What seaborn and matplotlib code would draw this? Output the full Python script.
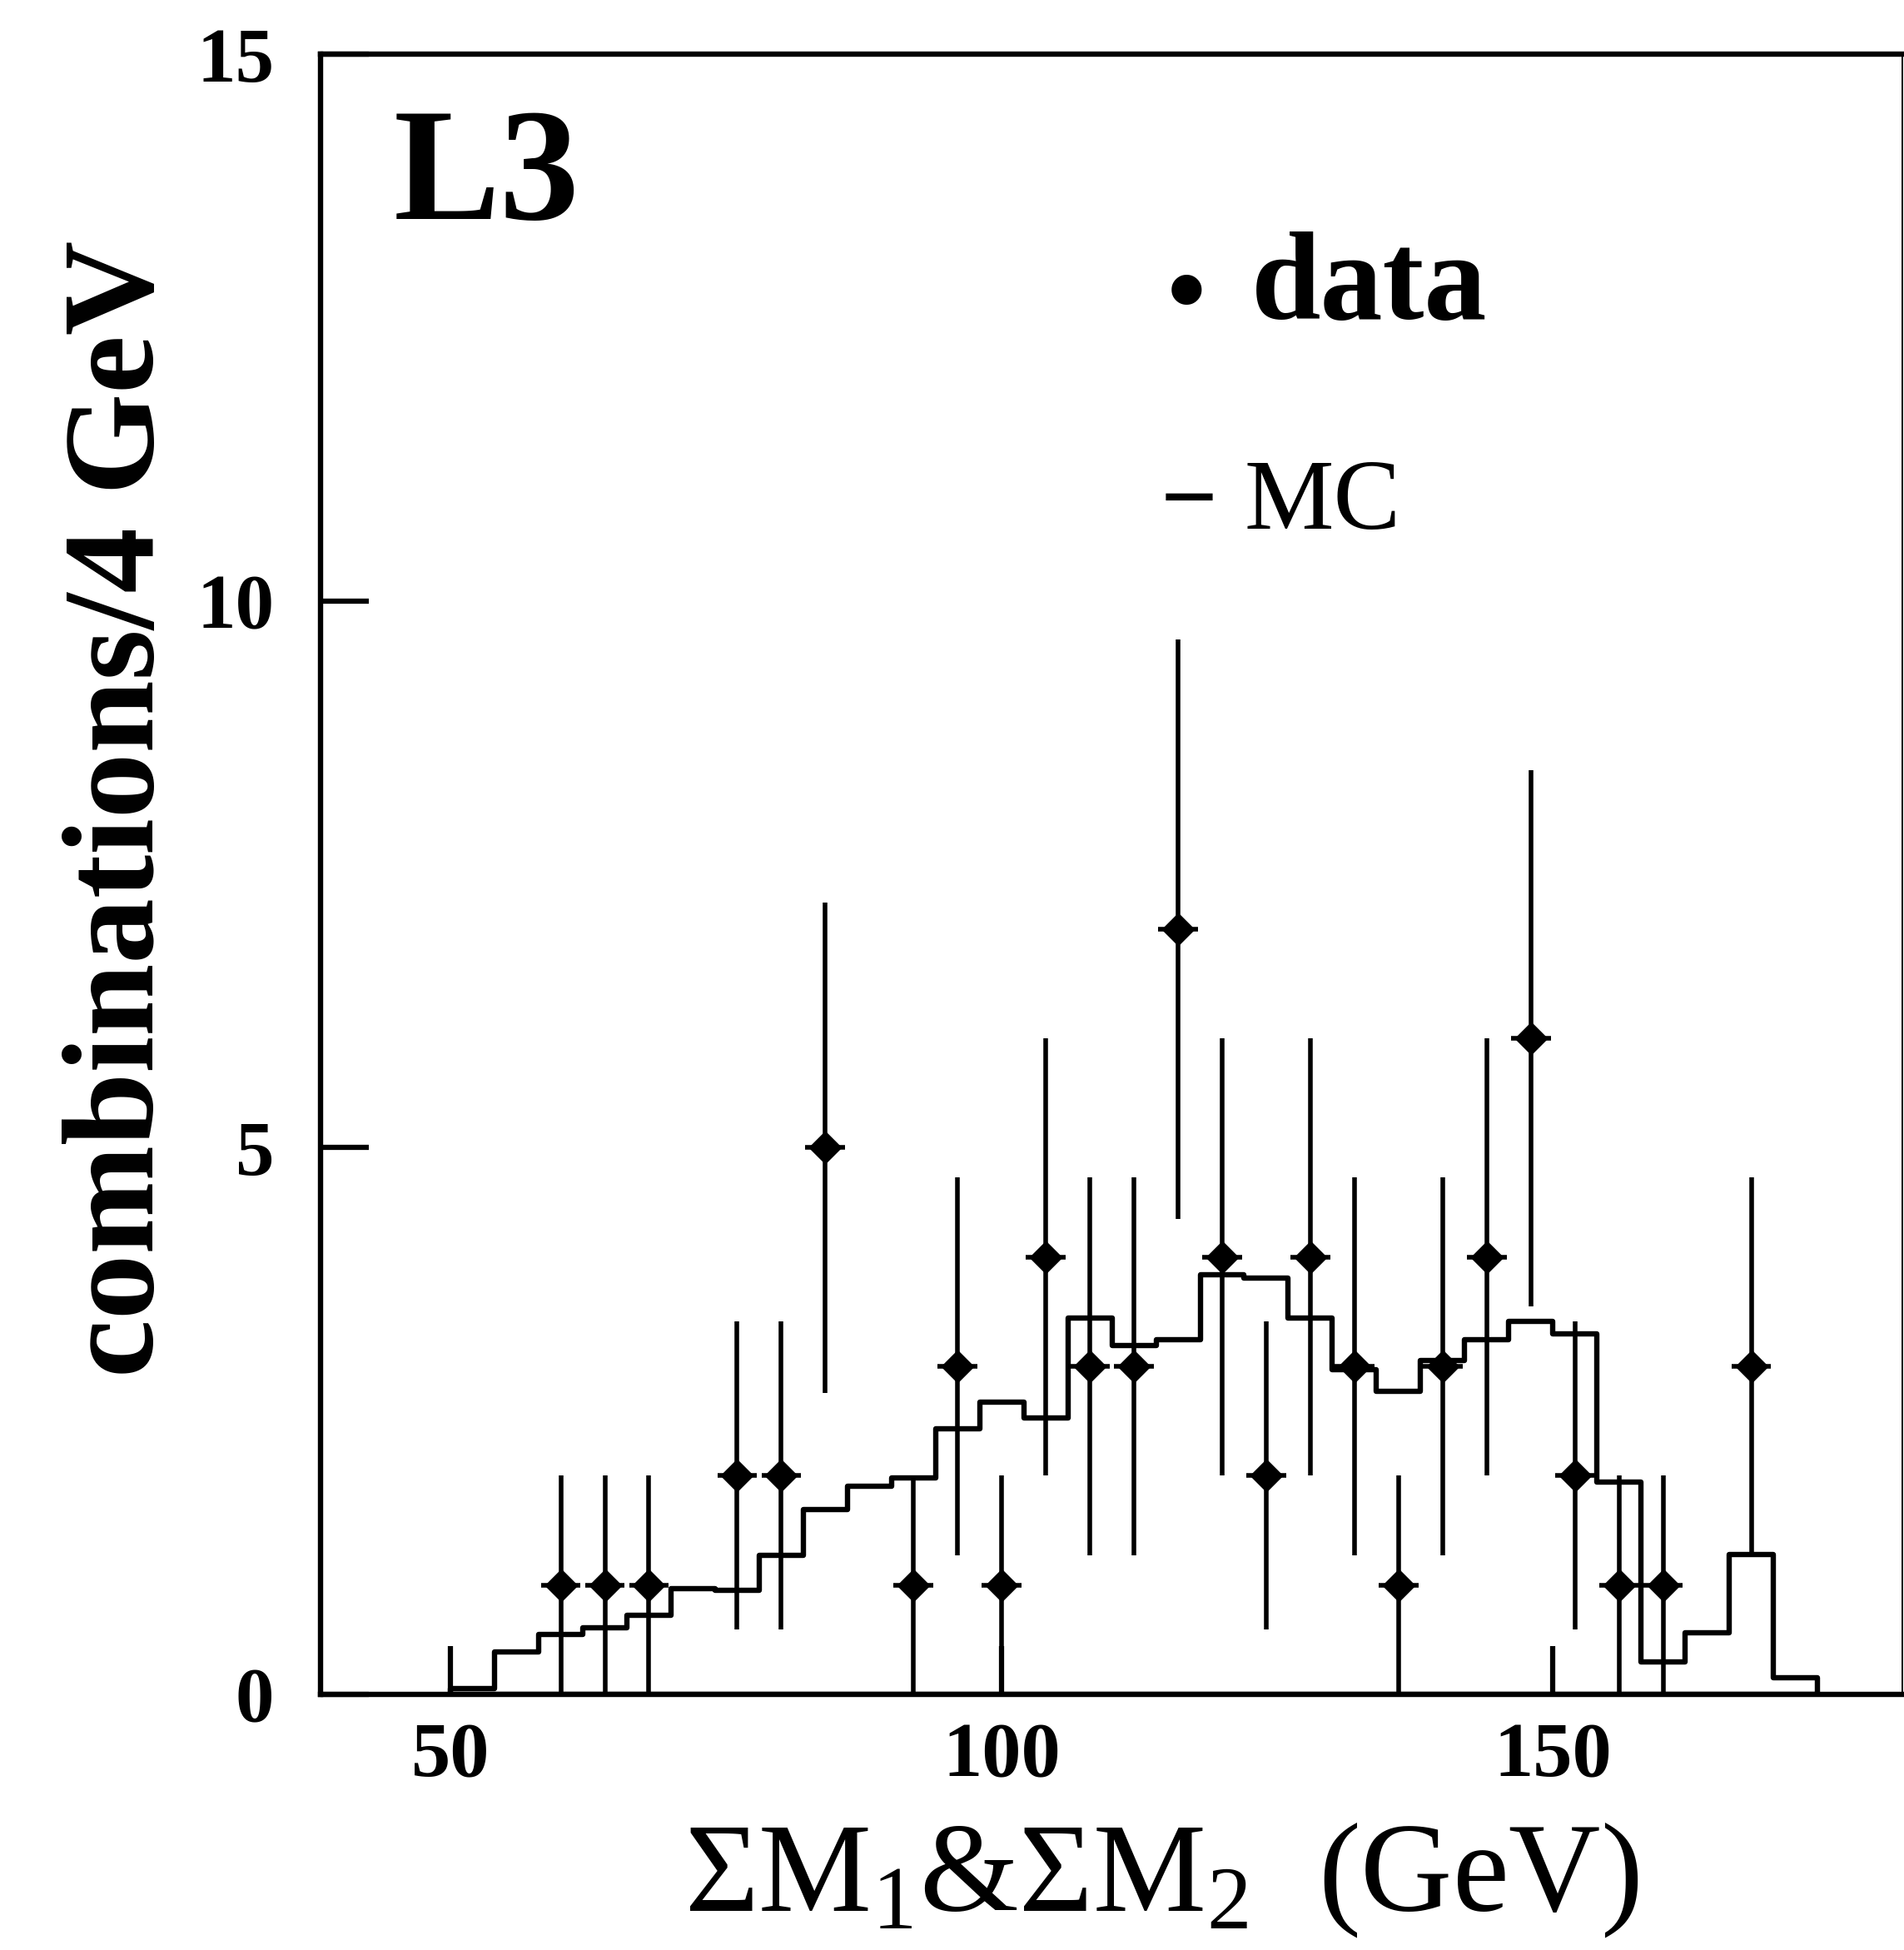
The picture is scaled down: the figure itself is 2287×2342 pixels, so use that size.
import matplotlib
matplotlib.use("Agg")
import matplotlib.pyplot as plt
import seaborn as sns

# MC expectation per 4 GeV bin (bin centres 52 ... 172 GeV)
mc_centers = [52, 56, 60, 64, 68, 72, 76, 80, 84, 88, 92, 96, 100, 104, 108, 112,
              116, 120, 124, 128, 132, 136, 140, 144, 148, 152, 156, 160, 164, 168, 172]
mc_values = [0.05, 0.39, 0.55, 0.61, 0.72, 0.97, 0.95, 1.27, 1.69, 1.90, 1.98, 2.43,
             2.67, 2.53, 3.44, 3.19, 3.24, 3.84, 3.81, 3.44, 2.97, 2.77, 3.05, 3.24,
             3.41, 3.30, 1.94, 0.30, 0.56, 1.28, 0.15]

# data points and their (Poisson) errors
data_x = [60, 64, 68, 76, 80, 84, 92, 96, 100, 104, 108, 112, 116, 120, 124,
          128, 132, 136, 140, 144, 148, 152, 156, 160, 168]
data_y = [1, 1, 1, 2, 2, 5, 1, 3, 1, 4, 3, 3, 7, 4, 2, 4, 3, 1, 3, 4, 6, 2, 1, 1, 3]
data_err = [1.0, 1.0, 1.0, 1.41, 1.41, 2.24, 1.0, 1.73, 1.0, 2.0, 1.73, 1.73, 2.65,
            2.0, 1.41, 2.0, 1.73, 1.0, 1.73, 2.0, 2.45, 1.41, 1.0, 1.0, 1.73]

x_ticks = [50, 100, 150]
y_ticks = [0, 5, 10, 15]

sns.set_style("ticks")
plt.rcParams["font.family"] = ["Liberation Serif", "DejaVu Serif"]
plt.rcParams["mathtext.fontset"] = "custom"
plt.rcParams["mathtext.rm"] = "Liberation Serif"
plt.rcParams["mathtext.it"] = "Liberation Serif:italic"
plt.rcParams["mathtext.bf"] = "Liberation Serif:bold"
for key in ["text.color", "axes.labelcolor", "xtick.color", "ytick.color", "axes.edgecolor"]:
    plt.rcParams[key] = "black"

fig = plt.figure(figsize=(22.87, 23.42), dpi=100)
ax = fig.add_axes([0.1683, 0.1311, 0.8308, 0.8411])

# MC histogram as an open step outline
sns.histplot(x=mc_centers, weights=mc_values, binwidth=4, binrange=(50, 174),
             element="step", fill=True, facecolor="none", color="black",
             linewidth=4.6, ax=ax, zorder=2)

# data with error bars
ax.errorbar(data_x, data_y, yerr=data_err, xerr=1.8, fmt="none", ecolor="black",
            elinewidth=4.0, capsize=0, zorder=3)
sns.scatterplot(x=data_x, y=data_y, marker="D", s=420, color="black",
                edgecolor="black", linewidth=0, ax=ax, zorder=4)

ax.set_xlabel("")
ax.set_ylabel("")
ax.set_xlim(38.2, 181.7)
ax.set_ylim(0, 15)
ax.set_xticks(x_ticks)
ax.set_yticks(y_ticks)
ax.tick_params(axis="both", direction="in", length=42, width=4.5, color="black")
ax.tick_params(axis="y", pad=40, labelsize=67)
ax.tick_params(axis="x", pad=24, labelsize=68)
for lab in ax.get_xticklabels() + ax.get_yticklabels():
    lab.set_fontweight("bold")
for side in ["left", "bottom", "top"]:
    ax.spines[side].set_linewidth(4.6)
ax.spines["right"].set_linewidth(1.4)

# labels and legend text
fig.text(0.2068, 0.8877, "L3", fontsize=138, fontweight="bold", ha="left", va="baseline")
fig.text(0.6231, 0.8327, "\u2022", fontsize=96, fontweight="bold", ha="center", va="baseline")
fig.text(0.6572, 0.8365, "data", fontsize=108, fontweight="bold", ha="left", va="baseline")
fig.text(0.6244, 0.7280, "\u2212", fontsize=87, fontweight="bold", ha="center", va="baseline")
fig.text(0.6533, 0.7289, "MC", fontsize=87, ha="left", va="baseline")

fig.text(0.0640, 0.5854, "combinations/4 GeV", rotation=90, fontsize=113,
         fontweight="bold", ha="center", va="center")
fig.text(0.6100, 0.0200, r"ΣM$_1$&ΣM$_2$  (GeV)", fontsize=110, ha="center", va="baseline")

fig.savefig("out.png", dpi=100)
